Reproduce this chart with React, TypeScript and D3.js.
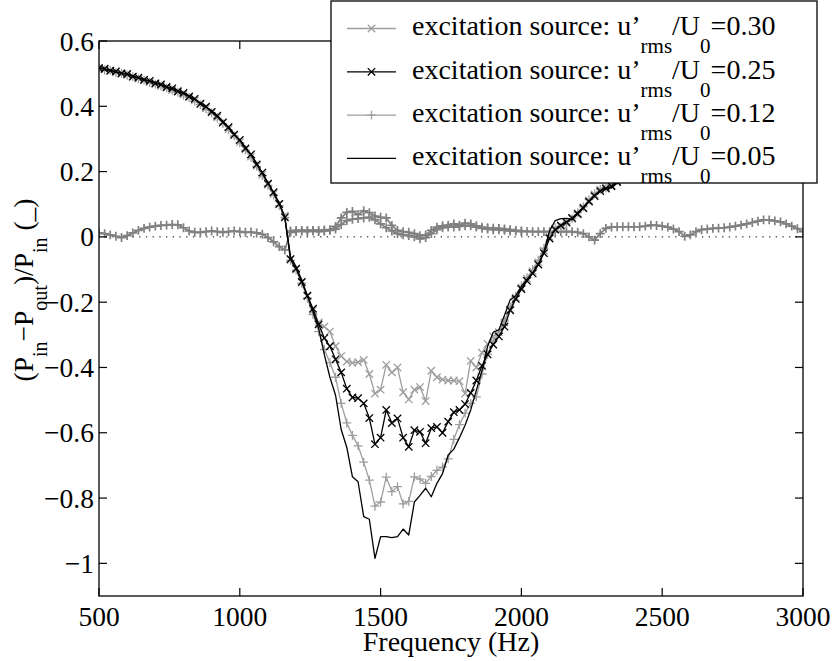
import React from "react";
import * as d3 from "d3";

// ---------- DATA ----------
const frequencies = [
  500, 520, 540, 560, 580, 600, 620, 640, 660, 680, 700, 720, 740, 760, 780, 800, 820, 840, 860, 880,
  900, 920, 940, 960, 980, 1000, 1020, 1040, 1060, 1080, 1100, 1120, 1140, 1160, 1180, 1200, 1220, 1240, 1260, 1280,
  1300, 1320, 1340, 1360, 1380, 1400, 1420, 1440, 1460, 1480, 1500, 1520, 1540, 1560, 1580, 1600, 1620, 1640, 1660, 1680,
  1700, 1720, 1740, 1760, 1780, 1800, 1820, 1840, 1860, 1880, 1900, 1920, 1940, 1960, 1980, 2000, 2020, 2040, 2060, 2080,
  2100, 2120, 2140, 2160, 2180, 2200, 2220, 2240, 2260, 2280, 2300, 2320, 2340, 2360, 2380, 2400, 2420, 2440, 2460, 2480,
  2500, 2520, 2540, 2560, 2580, 2600, 2620, 2640, 2660, 2680, 2700, 2720, 2740, 2760, 2780, 2800, 2820, 2840, 2860, 2880,
  2900, 2920, 2940, 2960, 2980, 3000,
];

// excitation u'rms/U0 = 0.30 (light grey, x markers)
const series030 = [
  0.515, 0.513, 0.508, 0.505, 0.5, 0.496, 0.49, 0.485, 0.48, 0.474, 0.469, 0.463, 0.457, 0.45, 0.444, 0.436, 0.428, 0.418, 0.406, 0.394,
  0.381, 0.366, 0.349, 0.33, 0.311, 0.29, 0.268, 0.246, 0.218, 0.19, 0.16, 0.132, 0.1, 0.065, -0.07, -0.1, -0.14, -0.182, -0.225, -0.262,
  -0.275, -0.29, -0.335, -0.365, -0.382, -0.386, -0.384, -0.377, -0.42, -0.48, -0.468, -0.392, -0.415, -0.4, -0.476, -0.498, -0.468, -0.46, -0.503, -0.41,
  -0.43, -0.437, -0.44, -0.44, -0.442, -0.48, -0.38, -0.4, -0.355, -0.328, -0.305, -0.292, -0.262, -0.222, -0.186, -0.155, -0.128, -0.105, -0.078, -0.042,
  0.0, 0.025, 0.032, 0.042, 0.055, 0.072, 0.09, 0.112, 0.13, 0.145, 0.152, 0.158, 0.17, 0.192,
];

// excitation u'rms/U0 = 0.25 (black, x markers)
const series025 = [
  0.517, 0.515, 0.509, 0.507, 0.501, 0.499, 0.491, 0.488, 0.481, 0.478, 0.47, 0.467, 0.459, 0.455, 0.446, 0.441, 0.43, 0.423, 0.408, 0.399,
  0.383, 0.371, 0.351, 0.336, 0.313, 0.297, 0.271, 0.253, 0.222, 0.197, 0.163, 0.137, 0.101, 0.06, -0.068, -0.097, -0.138, -0.18, -0.22, -0.268,
  -0.31, -0.335, -0.375, -0.415, -0.465, -0.492, -0.494, -0.51, -0.555, -0.635, -0.615, -0.53, -0.57, -0.556, -0.615, -0.643, -0.592, -0.597, -0.632, -0.586,
  -0.582, -0.6, -0.566, -0.537, -0.53, -0.512, -0.478, -0.44, -0.395, -0.36, -0.33, -0.305, -0.275, -0.225, -0.19, -0.16, -0.135, -0.112, -0.085, -0.05,
  -0.005, 0.022, 0.035, 0.045, 0.058, 0.07, 0.088, 0.108, 0.125, 0.14, 0.148, 0.155, 0.168, 0.188,
];

// excitation u'rms/U0 = 0.12 (light grey, + markers)
const series012 = [
  0.519, 0.511, 0.51, 0.503, 0.501, 0.495, 0.491, 0.484, 0.48, 0.473, 0.468, 0.462, 0.456, 0.449, 0.443, 0.434, 0.427, 0.416, 0.405, 0.392,
  0.38, 0.364, 0.347, 0.328, 0.309, 0.288, 0.266, 0.243, 0.216, 0.188, 0.158, 0.128, 0.096, 0.06, -0.072, -0.102, -0.142, -0.188, -0.238, -0.29,
  -0.345, -0.385, -0.43, -0.51, -0.57, -0.608, -0.64, -0.69, -0.745, -0.825, -0.812, -0.736, -0.78, -0.765, -0.818, -0.81, -0.735, -0.742, -0.755, -0.734,
  -0.715, -0.705, -0.68, -0.62, -0.575, -0.54, -0.51, -0.49, -0.42, -0.36, -0.318, -0.295, -0.258, -0.215, -0.182, -0.15, -0.125, -0.1, -0.072, -0.035,
  0.005, 0.028, 0.03, 0.04, 0.056, 0.074, 0.092, 0.114, 0.132, 0.146, 0.15, 0.16, 0.172, 0.195,
];

// excitation u'rms/U0 = 0.05 (black line)
const series005 = [
  0.52, 0.512, 0.511, 0.504, 0.503, 0.497, 0.494, 0.486, 0.483, 0.476, 0.474, 0.465, 0.461, 0.452, 0.448, 0.438, 0.433, 0.421, 0.411, 0.397,
  0.387, 0.368, 0.355, 0.333, 0.317, 0.294, 0.276, 0.25, 0.227, 0.193, 0.168, 0.133, 0.105, 0.058, -0.06, -0.092, -0.132, -0.18, -0.23, -0.28,
  -0.36, -0.43, -0.485, -0.59, -0.645, -0.735, -0.75, -0.857, -0.865, -0.985, -0.918, -0.918, -0.921, -0.918, -0.895, -0.913, -0.812, -0.792, -0.77, -0.796,
  -0.755, -0.725, -0.668, -0.65, -0.615, -0.577, -0.53, -0.47, -0.41, -0.335, -0.292, -0.285, -0.24, -0.193, -0.18, -0.152, -0.13, -0.11, -0.086, -0.045,
  0.018, 0.05, 0.056, 0.057, 0.052, 0.075, 0.092, 0.11, 0.128, 0.142, 0.15, 0.15, 0.165, 0.19,
];

// near-zero reference curves (mid grey, + markers)
const baselineA = [
  0.012, 0.01, 0.006, 0.002, -0.002, 0.004, 0.012, 0.02, 0.026, 0.03, 0.033, 0.035, 0.036, 0.038, 0.037, 0.028, 0.018, 0.014, 0.014, 0.016,
  0.018, 0.016, 0.014, 0.016, 0.018, 0.016, 0.014, 0.015, 0.012, 0.008, -0.002, -0.015, -0.03, -0.04, 0.018, 0.02, 0.02, 0.02, 0.02, 0.02,
  0.021, 0.022, 0.032, 0.058, 0.075, 0.078, 0.068, 0.08, 0.074, 0.064, 0.06, 0.058, 0.035, 0.02, 0.016, 0.014, 0.01, 0.004, 0.006, 0.02,
  0.03, 0.034, 0.036, 0.04, 0.036, 0.042, 0.04, 0.034, 0.03, 0.028, 0.027, 0.026, 0.024, 0.022, 0.02, 0.018, 0.017, 0.016, 0.016, 0.016,
  0.016, 0.016, 0.016, 0.016, 0.016, 0.014, 0.01, 0.0, -0.01, 0.01, 0.026, 0.03, 0.031, 0.031, 0.031, 0.031, 0.031, 0.033, 0.036, 0.035,
  0.033, 0.03, 0.024, 0.016, 0.002, 0.006, 0.016, 0.022, 0.024, 0.026, 0.027, 0.028, 0.03, 0.033, 0.036, 0.04, 0.044, 0.048, 0.052, 0.052,
  0.049, 0.046, 0.04, 0.033, 0.025, 0.016,
];

const baselineBFrequencies = [
  1180, 1200, 1220, 1240, 1260, 1280, 1300, 1320, 1340, 1360, 1380, 1400, 1420, 1440, 1460, 1480, 1500, 1520, 1540, 1560,
  1580, 1600, 1620, 1640, 1660, 1680, 1700, 1720, 1740, 1760, 1780, 1800, 1820, 1840, 1860, 1880, 1900, 1920, 1940, 1960,
  1980, 2000,
];
const baselineB = [
  0.014, 0.016, 0.018, 0.016, 0.018, 0.016, 0.018, 0.02, 0.024, 0.038, 0.05, 0.054, 0.056, 0.058, 0.06, 0.052, 0.04, 0.028, 0.018, 0.01,
  0.006, 0.004, 0.0, -0.006, -0.002, 0.01, 0.022, 0.028, 0.03, 0.03, 0.032, 0.034, 0.034, 0.03, 0.026, 0.024, 0.022, 0.022, 0.02, 0.018,
  0.018, 0.016,
];

const xTicks = [500, 1000, 1500, 2000, 2500, 3000];
const yTicks = [-1, -0.8, -0.6, -0.4, -0.2, 0, 0.2, 0.4, 0.6];
const legendValues = ["0.30", "0.25", "0.12", "0.05"];

// ---------- LAYOUT ----------
const W = 832;
const H = 661;
const left = 99;
const right = 803;
const top = 41;
const bottom = 596;
const FONT = "Liberation Serif, Times New Roman, Times, serif";
const LIGHT = "#9e9e9e";
const MID = "#808080";

type Marker = "x" | "+" | "none";

const xScale = d3.scaleLinear().domain([500, 3000]).range([left, right]);
const yScale = d3.scaleLinear().domain([-1.1, 0.6]).range([bottom, top]);

function MarkerShape({ x, y, type, color, s = 3.7, sw = 1.3 }: any) {
  if (type === "x")
    return (
      <path d={`M${x - s},${y - s}L${x + s},${y + s}M${x - s},${y + s}L${x + s},${y - s}`} stroke={color} strokeWidth={sw} fill="none" />
    );
  if (type === "+")
    return (
      <path d={`M${x - s * 1.2},${y}L${x + s * 1.2},${y}M${x},${y - s * 1.2}L${x},${y + s * 1.2}`} stroke={color} strokeWidth={sw} fill="none" />
    );
  return null;
}

function Series({ xs, ys, color, marker, width = 1.3 }: { xs: number[]; ys: number[]; color: string; marker: Marker; width?: number }) {
  const pts = ys.map((v, i) => [xs[i], v] as [number, number]);
  const line = d3
    .line<[number, number]>()
    .x((d) => xScale(d[0]))
    .y((d) => yScale(d[1]));
  return (
    <g>
      <path d={line(pts) || ""} fill="none" stroke={color} strokeWidth={width} strokeLinejoin="round" />
      {marker !== "none" &&
        pts.map((d, i) => <MarkerShape key={i} x={xScale(d[0])} y={yScale(d[1])} type={marker} color={color} sw={width} />)}
    </g>
  );
}

const legendItems: { value: string; color: string; marker: Marker }[] = [
  { value: legendValues[0], color: LIGHT, marker: "x" },
  { value: legendValues[1], color: "#000", marker: "x" },
  { value: legendValues[2], color: LIGHT, marker: "+" },
  { value: legendValues[3], color: "#000", marker: "none" },
];

const textStyle: React.CSSProperties = { fontFamily: FONT };

export default function App() {
  const tickLen = 8;
  return (
    <svg
      width={W}
      height={H}
      style={{ position: "absolute", left: 0, top: 0, background: "#fff", fontFamily: FONT }}
    >
      <defs>
        <clipPath id="plotclip">
          <rect x={left} y={top} width={right - left} height={bottom - top} />
        </clipPath>
      </defs>
      <rect x={0} y={0} width={W} height={H} fill="#fff" />

      {/* zero dotted line */}
      <line x1={left} x2={right} y1={yScale(0)} y2={yScale(0)} stroke="#000" strokeWidth={1} strokeDasharray="1.3,5.4" />

      <g clipPath="url(#plotclip)">
        <Series xs={baselineBFrequencies} ys={baselineB} color={MID} marker="+" width={1.7} />
        <Series xs={frequencies} ys={baselineA} color={MID} marker="+" width={1.7} />
        <Series xs={frequencies} ys={series030} color={LIGHT} marker="x" />
        <Series xs={frequencies} ys={series012} color={LIGHT} marker="+" />
        <Series xs={frequencies} ys={series025} color="#000" marker="x" />
        <Series xs={frequencies} ys={series005} color="#000" marker="none" />
      </g>

      {/* frame */}
      <rect x={left} y={top} width={right - left} height={bottom - top} fill="none" stroke="#000" strokeWidth={1.3} />

      {/* x ticks */}
      {xTicks.map((t) => (
        <g key={"x" + t}>
          <line x1={xScale(t)} x2={xScale(t)} y1={bottom} y2={bottom - tickLen} stroke="#000" strokeWidth={1.2} />
          <line x1={xScale(t)} x2={xScale(t)} y1={top} y2={top + tickLen} stroke="#000" strokeWidth={1.2} />
          <text style={textStyle} x={xScale(t)} y={626} fontSize={27.5} textAnchor="middle" fill="#000">
            {t}
          </text>
        </g>
      ))}
      {/* y ticks */}
      {yTicks.map((t) => (
        <g key={"y" + t}>
          <line x1={left} x2={left + tickLen} y1={yScale(t)} y2={yScale(t)} stroke="#000" strokeWidth={1.2} />
          <line x1={right} x2={right - tickLen} y1={yScale(t)} y2={yScale(t)} stroke="#000" strokeWidth={1.2} />
          <text style={textStyle} x={94} y={yScale(t) + 9.5} fontSize={27.5} textAnchor="end" fill="#000">
            {t < 0 ? "\u2212" + String(Math.abs(t)) : String(t)}
          </text>
        </g>
      ))}

      {/* axis labels */}
      <text style={textStyle} x={(left + right) / 2} y={651} fontSize={28} textAnchor="middle" fill="#000">
        Frequency (Hz)
      </text>
      <text style={textStyle} transform={`translate(33, ${290}) rotate(-90)`} fontSize={27.5} textAnchor="middle" fill="#000">
        <tspan>(P</tspan>
        <tspan dy={14} fontSize={20}>in</tspan>
        <tspan dy={-14}>{"\u2212"}P</tspan>
        <tspan dy={14} fontSize={20}>out</tspan>
        <tspan dy={-14}>)/P</tspan>
        <tspan dy={14} fontSize={20}>in</tspan>
        <tspan dy={-14}> (_)</tspan>
      </text>

      {/* legend */}
      <rect x={331} y={1} width={486} height={182} fill="#fff" stroke="#000" strokeWidth={1.3} />
      {legendItems.map((it, i) => {
        const ly = 28.5 + i * 43.3;
        return (
          <g key={i}>
            <line x1={347} x2={396} y1={ly} y2={ly} stroke={it.color} strokeWidth={1.3} />
            <MarkerShape x={371.5} y={ly} type={it.marker} color={it.color} />
            <text style={textStyle} x={412} y={ly + 6.8} fontSize={28} fill="#000">
              <tspan>excitation source: u’</tspan>
              <tspan dy={18} fontSize={21}>rms</tspan>
              <tspan dy={-18}>/U</tspan>
              <tspan dy={18} fontSize={21}>0</tspan>
              <tspan dy={-18}>={it.value}</tspan>
            </text>
          </g>
        );
      })}
    </svg>
  );
}
